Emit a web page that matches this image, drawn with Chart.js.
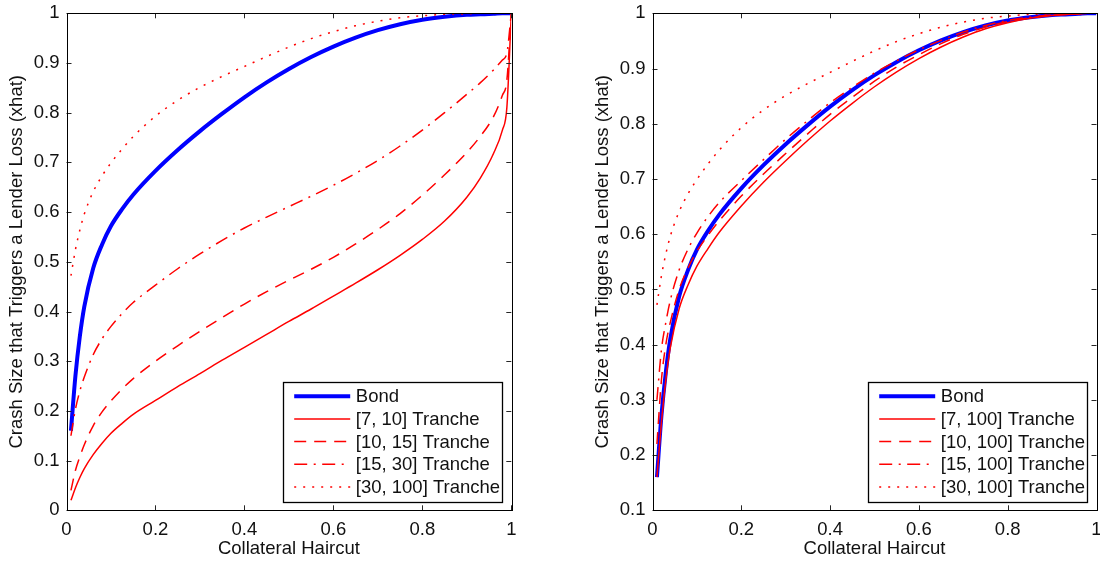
<!DOCTYPE html>
<html>
<head>
<meta charset="utf-8">
<script src="https://cdn.jsdelivr.net/npm/chart.js@4.4.1/dist/chart.umd.min.js"></script>
<style>
  html, body { margin: 0; padding: 0; background: #fff; }
  body { width: 1100px; height: 562px; position: relative; overflow: hidden; }
  .panel { position: absolute; top: 0; height: 562px; }
  #left-wrap { left: 0; width: 540px; }
  #right-wrap { left: 586px; width: 514px; }
</style>
</head>
<body>
<div class="panel" id="left-wrap"><canvas id="leftChart"></canvas></div>
<div class="panel" id="right-wrap"><canvas id="rightChart"></canvas></div>
<script>
// collateral haircut grid (x values shared by every curve)
const haircut = [0.01, 0.02, 0.03, 0.04, 0.06, 0.08, 0.1, 0.125, 0.15, 0.2, 0.25, 0.3, 0.35, 0.4, 0.45,
  0.5, 0.55, 0.6, 0.65, 0.7, 0.75, 0.8, 0.85, 0.9, 0.93, 0.96, 0.98, 0.99, 1];

// same bond curve in both panels
const bond = [0.16, 0.27, 0.35, 0.41, 0.487, 0.535, 0.572, 0.606, 0.635, 0.683, 0.725, 0.763, 0.798, 0.831, 0.861,
  0.888, 0.912, 0.933, 0.951, 0.966, 0.978, 0.987, 0.993, 0.997, 0.998, 0.999, 1, 1, 1];
// [30, 100] tranche, also in both panels
const tr30to100 = [0.472, 0.524, 0.564, 0.596, 0.641, 0.673, 0.699, 0.727, 0.752, 0.793, 0.825, 0.851, 0.873, 0.893, 0.913,
  0.932, 0.949, 0.963, 0.975, 0.984, 0.991, 0.995, 0.998, 0.999, 1, 1, 1, 1, 1];

// left panel: thin tranches
const tr7to10 = [0.02, 0.045, 0.066, 0.084, 0.112, 0.135, 0.155, 0.175, 0.193, 0.221, 0.249, 0.275, 0.302, 0.328, 0.354,
  0.38, 0.405, 0.431, 0.457, 0.484, 0.513, 0.545, 0.582, 0.63, 0.668, 0.718, 0.765, 0.81, 1];
const tr10to15 = [0.04, 0.08, 0.108, 0.132, 0.17, 0.198, 0.22, 0.244, 0.265, 0.3, 0.331, 0.36, 0.388, 0.415, 0.44,
  0.463, 0.485, 0.509, 0.536, 0.565, 0.597, 0.634, 0.675, 0.72, 0.752, 0.792, 0.835, 0.865, 1];
const tr15to30 = [0.15, 0.203, 0.24, 0.268, 0.313, 0.345, 0.37, 0.396, 0.418, 0.453, 0.486, 0.516, 0.543, 0.568, 0.59,
  0.611, 0.632, 0.654, 0.678, 0.704, 0.733, 0.765, 0.8, 0.837, 0.86, 0.886, 0.906, 0.92, 1];

// right panel: tranches up to 100
const tr7to100 = [0.16, 0.258, 0.336, 0.394, 0.465, 0.508, 0.542, 0.574, 0.603, 0.651, 0.694, 0.733, 0.77, 0.805, 0.837,
  0.867, 0.894, 0.918, 0.939, 0.957, 0.972, 0.983, 0.991, 0.996, 0.998, 0.999, 1, 1, 1];
const tr10to100 = [0.22, 0.335, 0.4, 0.44, 0.5, 0.539, 0.569, 0.598, 0.624, 0.669, 0.709, 0.746, 0.782, 0.817, 0.848,
  0.877, 0.903, 0.925, 0.945, 0.962, 0.975, 0.985, 0.992, 0.996, 0.998, 0.999, 1, 1, 1];
const tr15to100 = [0.3, 0.39, 0.44, 0.48, 0.535, 0.573, 0.602, 0.632, 0.657, 0.697, 0.735, 0.772, 0.806, 0.838, 0.866,
  0.892, 0.914, 0.934, 0.951, 0.966, 0.978, 0.987, 0.993, 0.997, 0.998, 0.999, 1, 1, 1];

const xTicks = [0, 0.2, 0.4, 0.6, 0.8, 1];
const yTicksLeft = [0, 0.1, 0.2, 0.3, 0.4, 0.5, 0.6, 0.7, 0.8, 0.9, 1];
const yTicksRight = [0.1, 0.2, 0.3, 0.4, 0.5, 0.6, 0.7, 0.8, 0.9, 1];

const FONT = "'Liberation Sans', Arial, Helvetica, sans-serif";
const FSIZE = 18.5;
const TXT = "#111";
Chart.defaults.font.family = FONT;
Chart.defaults.font.size = FSIZE;
Chart.defaults.color = TXT;

const pts = (ys) => haircut.map((x, i) => ({ x: x, y: ys[i] }));

function line(label, ys, style) {
  const base = {
    label: label,
    data: pts(ys),
    borderColor: "#ff0000",
    borderWidth: 1.5,
    borderDash: [],
    pointRadius: 0,
    cubicInterpolationMode: "monotone",
    fill: false,
    order: 0,
  };
  if (style === "bond") Object.assign(base, { borderColor: "#0000ff", borderWidth: 4, order: 1 });
  if (style === "dash") base.borderDash = [12, 8];
  if (style === "dashdot") base.borderDash = [13, 6.5, 2, 6.5];
  if (style === "dot") base.borderDash = [2, 7];
  return base;
}

// axes box with inward ticks on all four sides
const frame = {
  id: "frame",
  afterDatasetsDraw(chart) {
    const { ctx, chartArea: a, scales } = chart;
    const len = 5;
    ctx.save();
    ctx.strokeStyle = "#262626";
    ctx.lineWidth = 1;
    ctx.beginPath();
    scales.x.ticks.forEach((t) => {
      const px = Math.round(scales.x.getPixelForValue(t.value)) + 0.5;
      ctx.moveTo(px, a.bottom); ctx.lineTo(px, a.bottom - len);
      ctx.moveTo(px, a.top); ctx.lineTo(px, a.top + len);
    });
    scales.y.ticks.forEach((t) => {
      const py = Math.round(scales.y.getPixelForValue(t.value)) + 0.5;
      ctx.moveTo(a.left, py); ctx.lineTo(a.left + len, py);
      ctx.moveTo(a.right, py); ctx.lineTo(a.right - len, py);
    });
    ctx.stroke();
    ctx.strokeStyle = "#000";
    ctx.strokeRect(Math.round(a.left) + 0.5, Math.round(a.top) + 0.5,
      Math.round(a.right - a.left), Math.round(a.bottom - a.top));
    ctx.restore();
  },
};

// matlab style legend box in the lower right corner
const boxLegend = {
  id: "boxLegend",
  afterDraw(chart) {
    const { ctx, chartArea: a } = chart;
    const sets = chart.data.datasets;
    ctx.save();
    ctx.font = FSIZE + "px " + FONT;
    const textW = Math.max(...sets.map((d) => ctx.measureText(d.label).width));
    const w = 72.3 + textW + 3;
    const rowH = 22.7;
    const h = 13.7 + rowH * (sets.length - 1) + 15.6;
    const right = Math.round(a.right - 9.6) + 0.5;
    const bottom = Math.round(a.bottom - 8.3) + 0.5;
    const left = Math.round(right - w) + 0.5;
    const top = Math.round(bottom - h) + 0.5;
    ctx.fillStyle = "#fff";
    ctx.fillRect(left, top, right - left, bottom - top);
    ctx.strokeStyle = "#000";
    ctx.lineWidth = 1.3;
    ctx.strokeRect(left, top, right - left, bottom - top);
    sets.forEach((d, i) => {
      const y = top + 13.7 + i * rowH;
      ctx.beginPath();
      ctx.setLineDash(d.borderDash);
      ctx.strokeStyle = d.borderColor;
      ctx.lineWidth = d.borderWidth;
      ctx.moveTo(left + 10.7, y);
      ctx.lineTo(left + 66.7, y);
      ctx.stroke();
      ctx.setLineDash([]);
      ctx.fillStyle = TXT;
      ctx.textBaseline = "middle";
      ctx.textAlign = "left";
      ctx.fillText(d.label, left + 72.3, y + 1);
    });
    ctx.restore();
  },
};

function makeChart(id, datasets, yTicks, padRight) {
  return new Chart(document.getElementById(id), {
    type: "line",
    data: { datasets: datasets },
    plugins: [frame, boxLegend],
    options: {
      responsive: true,
      maintainAspectRatio: false,
      animation: false,
      layout: { padding: { top: 13.3, right: padRight, bottom: 0, left: 0 } },
      plugins: { legend: { display: false }, tooltip: { enabled: false } },
      scales: {
        x: {
          type: "linear",
          min: 0,
          max: 1,
          afterBuildTicks: (s) => { s.ticks = xTicks.map((v) => ({ value: v })); },
          afterFit: (s) => { s.height = 51.7; s.paddingLeft = 0; s.paddingRight = 0; },
          ticks: { callback: (v) => String(v), padding: 9, maxRotation: 0, autoSkip: false, color: TXT },
          grid: { display: false, drawTicks: false },
          border: { display: false },
          title: { display: true, text: "Collateral Haircut", color: TXT, padding: { top: 0, bottom: 1.5 } },
        },
        y: {
          type: "linear",
          min: yTicks[0],
          max: yTicks[yTicks.length - 1],
          afterBuildTicks: (s) => { s.ticks = yTicks.map((v) => ({ value: v })); },
          afterFit: (s) => { s.width = 66.5; s.paddingTop = 0; s.paddingBottom = 0; },
          ticks: { callback: (v) => String(v), padding: 7, autoSkip: false, color: TXT },
          grid: { display: false, drawTicks: false },
          border: { display: false },
          title: { display: true, text: "Crash Size that Triggers a Lender Loss (xhat)", color: TXT, padding: { top: 6, bottom: 0 } },
        },
      },
    },
  });
}

makeChart("leftChart", [
  line("Bond", bond, "bond"),
  line("[7, 10] Tranche", tr7to10, "solid"),
  line("[10, 15] Tranche", tr10to15, "dash"),
  line("[15, 30] Tranche", tr15to30, "dashdot"),
  line("[30, 100] Tranche", tr30to100, "dot"),
], yTicksLeft, 28.7);

makeChart("rightChart", [
  line("Bond", bond, "bond"),
  line("[7, 100] Tranche", tr7to100, "solid"),
  line("[10, 100] Tranche", tr10to100, "dash"),
  line("[15, 100] Tranche", tr15to100, "dashdot"),
  line("[30, 100] Tranche", tr30to100, "dot"),
], yTicksRight, 3.5);
</script>
</body>
</html>
